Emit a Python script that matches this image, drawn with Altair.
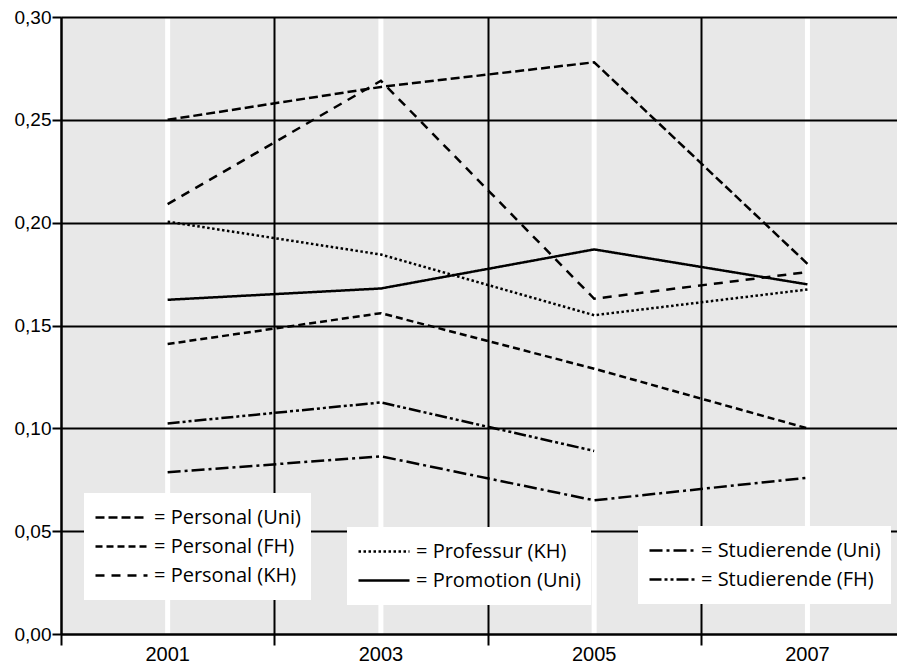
import altair as alt
import pandas as pd

years = [2001, 2003, 2005, 2007]
personal_uni = [0.250, 0.266, 0.278, 0.180]
personal_fh = [0.141, 0.156, 0.129, 0.100]
personal_kh = [0.209, 0.269, 0.163, 0.176]
professur_kh = [0.2005, 0.1845, 0.155, 0.1675]
promotion_uni = [0.1625, 0.168, 0.187, 0.170]
studierende_uni = [0.0786, 0.0864, 0.065, 0.076]
studierende_fh = [0.1024, 0.1126, 0.089, None]

y_ticks = [0.0, 0.05, 0.10, 0.15, 0.20, 0.25, 0.30]
x_ticks = [2000, 2002, 2004, 2006]

series = {
    "Personal (Uni)": personal_uni,
    "Personal (FH)": personal_fh,
    "Personal (KH)": personal_kh,
    "Professur (KH)": professur_kh,
    "Promotion (Uni)": promotion_uni,
    "Studierende (Uni)": studierende_uni,
    "Studierende (FH)": studierende_fh,
}
rows = []
for name, vals in series.items():
    for yr, v in zip(years, vals):
        if v is not None:
            rows.append({"year": yr, "value": v, "series": name})
df = pd.DataFrame(rows)
years_df = pd.DataFrame({"year": years, "label": [str(y) for y in years]})

W, H = 836, 617
xscale = alt.Scale(domain=[2000, 2007.84], nice=False, zero=False)
yscale = alt.Scale(domain=[0, 0.30], nice=False)

x_axis = alt.Axis(values=x_ticks, labels=False, title=None, grid=True,
                  gridColor="black", gridWidth=2, gridOpacity=1,
                  domainColor="black", domainWidth=2,
                  tickColor="black", tickWidth=2, tickSize=11, zindex=1)
y_axis = alt.Axis(values=y_ticks, title=None, grid=True,
                  gridColor="black", gridWidth=2, gridOpacity=1,
                  domainColor="black", domainWidth=2,
                  tickColor="black", tickWidth=2, tickSize=9,
                  labelPadding=1, labelFontSize=19, labelFont="Liberation Sans",
                  labelColor="black",
                  labelExpr="replace(format(datum.value, '.2f'), '.', ',')",
                  zindex=1)

X = alt.X("year:Q", scale=xscale, axis=x_axis)
Y = alt.Y("value:Q", scale=yscale, axis=y_axis)

bands = alt.Chart(years_df).mark_rule(color="white", strokeWidth=5).encode(
    x=X
)

year_labels = alt.Chart(years_df).mark_text(
    fontSize=20, font="Liberation Sans", baseline="middle", color="black"
).encode(x=X, y=alt.value(H + 21), text="label:N")


def legend(x, y, symlen):
    return alt.Legend(
        orient="none", legendX=x, legendY=y, title=None,
        fillColor="white", padding=10, symbolType="stroke",
        symbolSize=symlen * symlen, symbolStrokeWidth=2.5,
        symbolStrokeColor="black", clipHeight=29, labelOffset=5,
        labelFont="Open Sans", labelFontSize=20, labelColor="black",
        labelLimit=400,
        labelExpr="'= ' + datum.label", zindex=3, rowPadding=0,
    )


def group(names, dashes, leg, width=2.5):
    sub = df[df["series"].isin(names)]
    return alt.Chart(sub).mark_line(color="black", strokeWidth=width, strokeCap="butt").encode(
        x=X, y=Y,
        strokeDash=alt.StrokeDash("series:N", scale=alt.Scale(domain=names, range=dashes), legend=leg),
    )


g1 = group(["Personal (Uni)", "Personal (FH)", "Personal (KH)"],
           [[9, 4], [7, 4], [9, 7]], legend(23, 476, 52))
g2 = group(["Professur (KH)", "Promotion (Uni)"],
           [[2.5, 2.5], [1, 0]], legend(286, 510, 51))
g3 = group(["Studierende (Uni)", "Studierende (FH)"],
           [[13, 4, 3, 4], [12, 3, 3, 3, 3, 3]], legend(577, 509, 45))

chart = alt.layer(bands, g1, g2, g3, year_labels).resolve_scale(
    strokeDash="independent"
).properties(
    width=W, height=H,
    autosize=alt.AutoSizeParams(type="none"),
    padding={"left": 53, "top": 9, "right": 0, "bottom": 35},
).configure_view(fill="#e8e8e8", stroke=None)

chart.save("out.html", embed_options={"renderer": "svg", "actions": False})
